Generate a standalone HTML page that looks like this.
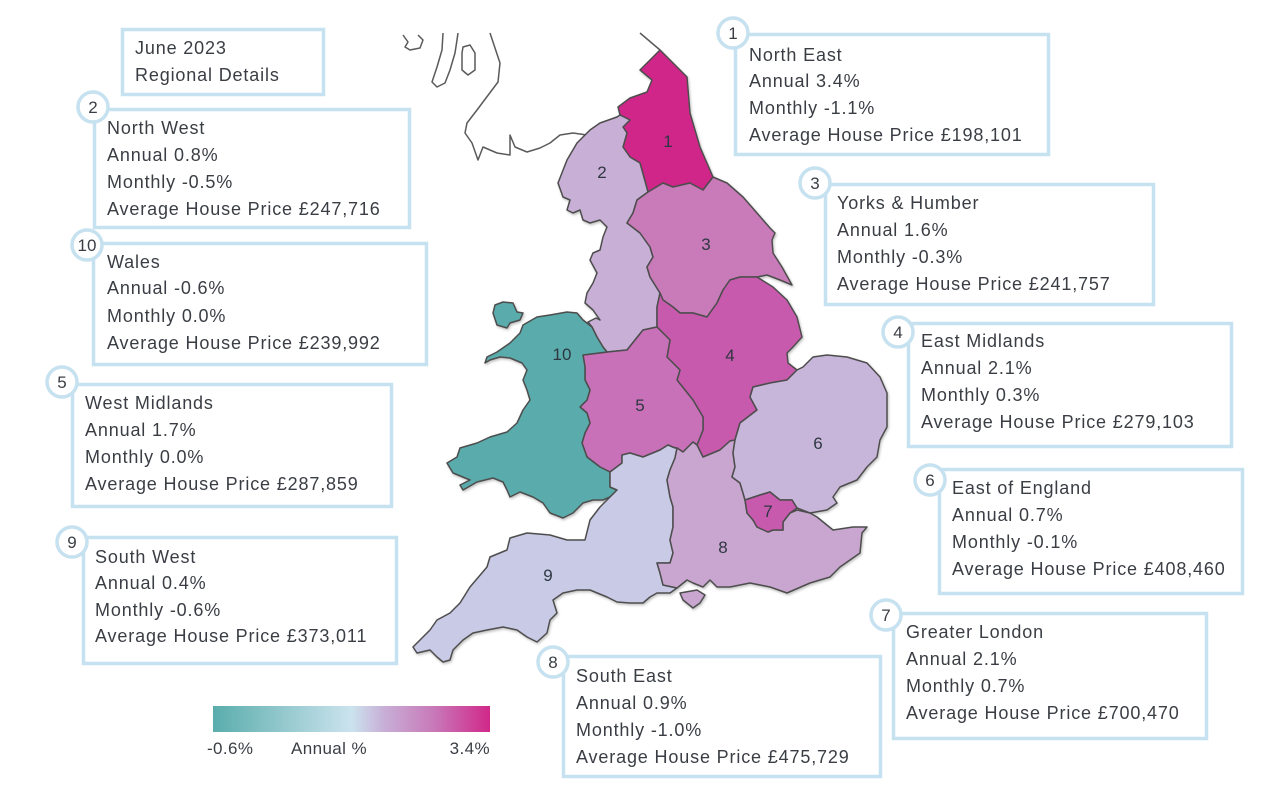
<!DOCTYPE html>
<html><head><meta charset="utf-8"><style>
html,body{margin:0;padding:0;background:#fff;}
svg{display:block;}
.t{font-family:"Liberation Sans",Arial,sans-serif;font-size:18px;fill:#3a3e44;letter-spacing:0.85px;}
.n{font-family:"Liberation Sans",Arial,sans-serif;font-size:17px;fill:#3a3e44;text-anchor:middle;}
.m{font-family:"Liberation Sans",Arial,sans-serif;font-size:17px;fill:#2e3742;text-anchor:middle;}
.b{fill:#fff;stroke:#c6e1ef;stroke-width:3.5;}
.c{fill:#fff;stroke:#c6e1ef;stroke-width:3.5;}
.r{stroke:#4d4d4d;stroke-width:1.5;stroke-linejoin:round;}
.ln{fill:none;stroke:#5a5a5a;stroke-width:1.5;stroke-linejoin:round;}
.lg{font-family:"Liberation Sans",Arial,sans-serif;font-size:17px;fill:#3a3e44;letter-spacing:0.4px;}
</style></head><body>
<svg width="1280" height="806" viewBox="0 0 1280 806" xmlns="http://www.w3.org/2000/svg">
<defs>
<linearGradient id="g" x1="0" y1="0" x2="1" y2="0">
<stop offset="0" stop-color="#5aadac"/>
<stop offset="0.5" stop-color="#cbe3ee"/>
<stop offset="0.62" stop-color="#c8aed6"/>
<stop offset="0.8" stop-color="#c878b8"/>
<stop offset="1" stop-color="#d0288a"/>
</linearGradient>
<filter id="sh" x="-5%" y="-5%" width="110%" height="110%">
<feDropShadow dx="1" dy="1.5" stdDeviation="1.2" flood-color="#000" flood-opacity="0.25"/>
</filter>
</defs>

<!-- Scotland outline -->
<g class="ln">
<polyline points="403,35 408,42 405,47 410,50 420,48 423,40 418,35"/>
<polyline points="443,33 442,50 437,67 432,82 437,87 445,83 450,70 455,53 457,40 458,33"/>
<polygon points="462,53 463,47 470,45 475,53 475,70 468,75 462,70"/>
<polyline points="490,33 500,63 498,82 477,110 467,123 465,133 472,143 478,160 483,147 497,153 510,155 510,135 515,147 527,152 540,148 550,143 560,135 573,133 587,135 597,130 603,123 617,117"/>
<polyline points="640,33 660,50"/>
</g>

<g filter="url(#sh)">
<!-- 1 North East -->
<polygon class="r" fill="#d0288a" points="660,50 687,77 690,113 700,147 713,177 703,190 690,183 673,187 663,183 648,192 640,163 630,157 623,147 627,133 623,127 630,120 620,115 618,107 630,98 647,92 652,80 640,70 647,63"/>
<!-- 2 North West -->
<polygon class="r" fill="#c7afd6" points="617,117 620,115 630,120 623,127 627,133 623,147 630,157 640,163 648,192 637,200 633,213 627,223 640,233 650,247 653,257 647,267 650,277 660,293 657,307 657,327 643,330 627,350 607,352 603,347 597,337 592,327 588,322 596,318 600,320 593,310 585,303 587,293 593,283 597,273 590,260 593,253 600,250 603,237 607,227 600,220 590,223 583,220 580,210 573,213 567,210 570,200 563,197 558,183 567,160 577,143 590,130 600,123"/>
<!-- 3 Yorks -->
<polygon class="r" fill="#c87ab9" points="648,192 663,183 673,187 690,183 703,190 713,177 727,183 743,197 757,213 770,228 775,233 772,240 773,253 782,267 792,285 780,280 767,275 757,277 740,277 730,280 723,290 717,303 707,317 693,313 680,313 673,307 663,300 660,293 650,277 647,267 653,257 650,247 640,233 627,223 633,213 637,200"/>
<!-- 4 East Midlands -->
<polygon class="r" fill="#c85aad" points="660,293 663,300 673,307 680,313 693,313 707,317 717,303 723,290 730,280 740,277 757,277 773,287 787,300 797,317 802,337 793,347 787,353 788,363 797,370 787,380 770,383 753,387 750,397 757,410 740,423 737,433 735,440 730,441 720,450 703,457 697,445 703,430 703,417 693,400 677,380 680,370 667,357 670,340 657,327 657,307"/>
<!-- 5 West Midlands -->
<polygon class="r" fill="#c870b8" points="657,327 670,340 667,357 680,370 677,380 693,400 703,417 703,430 697,445 693,442 683,452 677,448 675,448 668,445 660,450 643,457 630,453 622,455 622,463 610,472 600,467 587,457 582,443 585,433 590,423 587,413 580,407 587,400 590,390 585,380 585,367 583,355 607,352 627,350 643,330"/>
<!-- 10 Wales -->
<polygon class="r" fill="#5aabac" points="523,325 537,317 550,315 567,312 577,313 583,320 592,327 597,337 603,347 607,352 583,355 585,367 585,380 590,390 587,400 580,407 587,413 590,423 585,433 582,443 587,457 600,467 610,472 610,487 617,490 610,497 603,500 593,500 583,503 573,513 563,518 550,513 543,503 533,497 520,492 510,497 507,490 503,482 493,478 477,482 463,490 460,485 470,480 453,473 447,463 457,457 460,448 477,443 490,437 507,432 517,423 523,410 530,400 527,390 523,380 527,370 522,363 510,358 500,357 490,360 485,363 487,357 497,352 510,343 520,333"/>
<polygon class="r" fill="#5aabac" points="495,305 503,302 513,303 517,312 523,313 520,320 510,323 507,328 497,325 493,313"/>
<!-- 9 South West -->
<polygon class="r" fill="#c9cae6" points="610,472 622,463 622,455 630,453 643,457 660,450 668,445 675,448 677,448 675,458 670,470 667,480 670,497 673,507 673,527 670,540 673,553 670,563 657,563 660,573 663,585 677,588 670,593 657,593 650,597 643,603 630,603 617,602 607,597 590,590 577,590 563,593 553,600 557,613 550,620 547,633 537,642 527,637 517,630 503,627 487,630 473,633 463,640 453,650 450,660 443,662 437,657 430,650 417,653 413,647 420,640 430,630 437,620 450,613 460,603 470,587 487,567 490,557 507,550 510,538 527,533 550,535 567,540 585,540 590,520 600,507 610,497 617,490 610,487"/>
<!-- 8 South East -->
<polygon class="r" fill="#c8a6d0" points="677,448 683,452 693,442 697,445 703,457 720,450 730,441 735,440 733,453 735,467 732,477 740,483 743,493 745,500 747,513 753,520 757,527 768,532 773,530 783,530 783,522 790,513 797,510 810,513 817,517 833,530 853,527 867,527 862,533 860,553 840,567 830,577 810,583 787,593 770,587 750,583 730,587 717,587 710,580 703,587 693,583 687,580 677,588 663,585 660,573 657,563 670,563 673,553 670,540 673,527 673,507 670,497 667,480 670,470 675,458"/>
<polygon class="r" fill="#c8a6d0" points="680,593 697,590 705,595 700,603 693,608 683,600"/>
<!-- 6 East of England -->
<polygon class="r" fill="#c8b5da" points="735,440 737,433 740,423 757,410 750,397 753,387 770,383 787,380 797,370 803,367 813,357 827,355 847,357 867,363 880,377 887,393 887,410 887,427 880,440 877,457 867,467 857,480 840,487 833,497 837,503 827,510 810,513 797,508 792,500 780,500 770,492 760,495 745,500 743,493 740,483 732,477 735,467 733,453"/>
<!-- 7 London -->
<polygon class="r" fill="#c85aae" points="745,500 760,495 770,492 780,500 792,500 797,508 790,513 783,522 783,530 773,530 768,532 757,527 753,520 747,513"/>
</g>

<!-- map labels -->
<text class="m" x="668" y="147">1</text>
<text class="m" x="602" y="178">2</text>
<text class="m" x="706" y="250">3</text>
<text class="m" x="730" y="361">4</text>
<text class="m" x="640" y="411">5</text>
<text class="m" x="818" y="449">6</text>
<text class="m" x="768" y="517">7</text>
<text class="m" x="723" y="553">8</text>
<text class="m" x="548" y="581">9</text>
<text class="m" x="562" y="360">10</text>

<!-- Title box -->
<rect class="b" x="122.5" y="29.5" width="201" height="65"/>
<text class="t" x="135" y="54">June 2023</text>
<text class="t" x="135" y="81">Regional Details</text>

<!-- Box 1 -->
<rect class="b" x="735.5" y="34.5" width="313" height="120"/>
<circle class="c" cx="733" cy="33" r="15"/>
<text class="n" x="733" y="39">1</text>
<text class="t" x="749" y="61">North East</text>
<text class="t" x="749" y="87">Annual 3.4%</text>
<text class="t" x="749" y="114">Monthly -1.1%</text>
<text class="t" x="749" y="141">Average House Price £198,101</text>

<!-- Box 2 -->
<rect class="b" x="94.5" y="109.5" width="315" height="118"/>
<circle class="c" cx="93" cy="107" r="15"/>
<text class="n" x="93" y="113">2</text>
<text class="t" x="107" y="134">North West</text>
<text class="t" x="107" y="161">Annual 0.8%</text>
<text class="t" x="107" y="188">Monthly -0.5%</text>
<text class="t" x="107" y="215">Average House Price £247,716</text>

<!-- Box 3 -->
<rect class="b" x="825.5" y="184.5" width="328" height="120"/>
<circle class="c" cx="815" cy="183" r="15"/>
<text class="n" x="815" y="189">3</text>
<text class="t" x="837" y="209">Yorks &amp; Humber</text>
<text class="t" x="837" y="236">Annual 1.6%</text>
<text class="t" x="837" y="263">Monthly -0.3%</text>
<text class="t" x="837" y="290">Average House Price £241,757</text>

<!-- Box 10 -->
<rect class="b" x="93.5" y="243.5" width="333" height="121"/>
<circle class="c" cx="87" cy="245" r="15"/>
<text class="n" x="87" y="251">10</text>
<text class="t" x="107" y="268">Wales</text>
<text class="t" x="107" y="294">Annual -0.6%</text>
<text class="t" x="107" y="322">Monthly 0.0%</text>
<text class="t" x="107" y="349">Average House Price £239,992</text>

<!-- Box 4 -->
<rect class="b" x="908.5" y="323.5" width="323" height="123"/>
<circle class="c" cx="898" cy="332" r="15"/>
<text class="n" x="898" y="338">4</text>
<text class="t" x="921" y="347">East Midlands</text>
<text class="t" x="921" y="374">Annual 2.1%</text>
<text class="t" x="921" y="401">Monthly 0.3%</text>
<text class="t" x="921" y="428">Average House Price £279,103</text>

<!-- Box 5 -->
<rect class="b" x="72.5" y="384.5" width="319" height="122"/>
<circle class="c" cx="62" cy="382" r="15"/>
<text class="n" x="62" y="388">5</text>
<text class="t" x="85" y="409">West Midlands</text>
<text class="t" x="85" y="436">Annual 1.7%</text>
<text class="t" x="85" y="463">Monthly 0.0%</text>
<text class="t" x="85" y="490">Average House Price £287,859</text>

<!-- Box 6 -->
<rect class="b" x="939.5" y="469.5" width="303" height="124"/>
<circle class="c" cx="930" cy="480" r="15"/>
<text class="n" x="930" y="486">6</text>
<text class="t" x="952" y="494">East of England</text>
<text class="t" x="952" y="521">Annual 0.7%</text>
<text class="t" x="952" y="548">Monthly -0.1%</text>
<text class="t" x="952" y="575">Average House Price £408,460</text>

<!-- Box 9 -->
<rect class="b" x="83.5" y="537.5" width="313" height="126"/>
<circle class="c" cx="72" cy="542" r="15"/>
<text class="n" x="72" y="548">9</text>
<text class="t" x="95" y="563">South West</text>
<text class="t" x="95" y="589">Annual 0.4%</text>
<text class="t" x="95" y="616">Monthly -0.6%</text>
<text class="t" x="95" y="642">Average House Price £373,011</text>

<!-- Box 7 -->
<rect class="b" x="893.5" y="613.5" width="313" height="125"/>
<circle class="c" cx="886" cy="615" r="15"/>
<text class="n" x="886" y="621">7</text>
<text class="t" x="906" y="638">Greater London</text>
<text class="t" x="906" y="665">Annual 2.1%</text>
<text class="t" x="906" y="692">Monthly 0.7%</text>
<text class="t" x="906" y="719">Average House Price £700,470</text>

<!-- Box 8 -->
<rect class="b" x="563.5" y="656.5" width="317" height="120"/>
<circle class="c" cx="553" cy="662" r="15"/>
<text class="n" x="553" y="668">8</text>
<text class="t" x="576" y="682">South East</text>
<text class="t" x="576" y="709">Annual 0.9%</text>
<text class="t" x="576" y="736">Monthly -1.0%</text>
<text class="t" x="576" y="763">Average House Price £475,729</text>

<!-- Legend -->
<rect x="213" y="706" width="277" height="26" fill="url(#g)"/>
<text class="lg" x="207" y="754">-0.6%</text>
<text class="lg" x="291" y="754">Annual %</text>
<text class="lg" x="490" y="754" text-anchor="end">3.4%</text>
</svg>
</body></html>
